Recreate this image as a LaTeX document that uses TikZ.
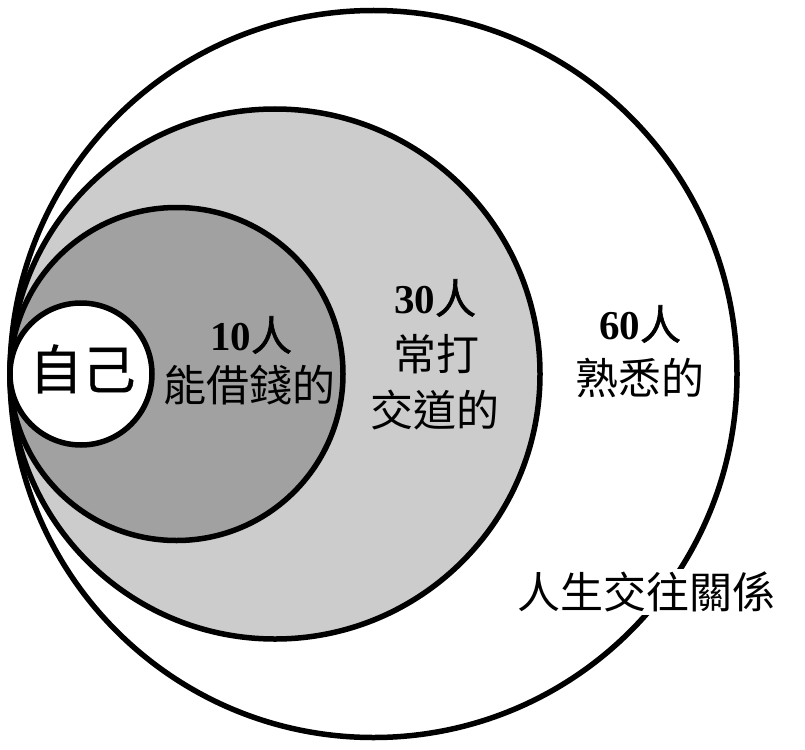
\documentclass[tikz,border=0pt]{standalone}
\usepackage{fontspec}
\newfontfamily\cjk{Noto Sans CJK TC}
\newfontfamily\cjkm[FakeBold=0.8]{Noto Sans CJK TC}
\newfontfamily\cjkb[FakeBold=1.5]{Noto Sans CJK TC}
\newfontfamily\tnr{Liberation Serif}
\definecolor{darkg}{RGB}{160,161,160}
\definecolor{lightg}{RGB}{204,204,204}
\begin{document}
\begin{tikzpicture}[x=1pt,y=-1pt,
  ring/.style={draw=black,line width=5.5pt},
  lbl/.style={inner sep=0pt,font=\cjk\fontsize{43}{48}\selectfont},
  num/.style={inner sep=0pt,font=\fontsize{41}{46}\selectfont}]
\useasboundingbox (0,0) rectangle (805,749);
\fill[white] (0,0) rectangle (805,749);
\draw[ring,fill=white] (373.5,374) circle[radius=363.5pt];
\draw[ring,fill=lightg] (275,374) circle[radius=265pt];
\draw[ring,fill=darkg] (176.5,374) circle[radius=166.5pt];
\draw[ring,fill=white] (81,374) circle[radius=71pt];
\node[lbl,font=\cjkm\fontsize{53}{56}\selectfont] (self) at (82.5,369) {自己};
\node[num] (n10) at (251,335) {{\tnr\bfseries 10}{\cjkb 人}};
\node[lbl] (l10) at (249,385) {能借錢的};
\node[num] (n30) at (435,298) {{\tnr\bfseries 30}{\cjkb 人}};
\node[lbl] (l30a) at (436,354) {常打};
\node[lbl] (l30b) at (435,410) {交道的};
\node[num] (n60) at (640,324) {{\tnr\bfseries 60}{\cjkb 人}};
\node[lbl] (l60) at (640,378) {熟悉的};
\node[lbl,fill=white,inner sep=3pt] (life) at (646,592) {人生交往關係};
\end{tikzpicture}
\end{document}
